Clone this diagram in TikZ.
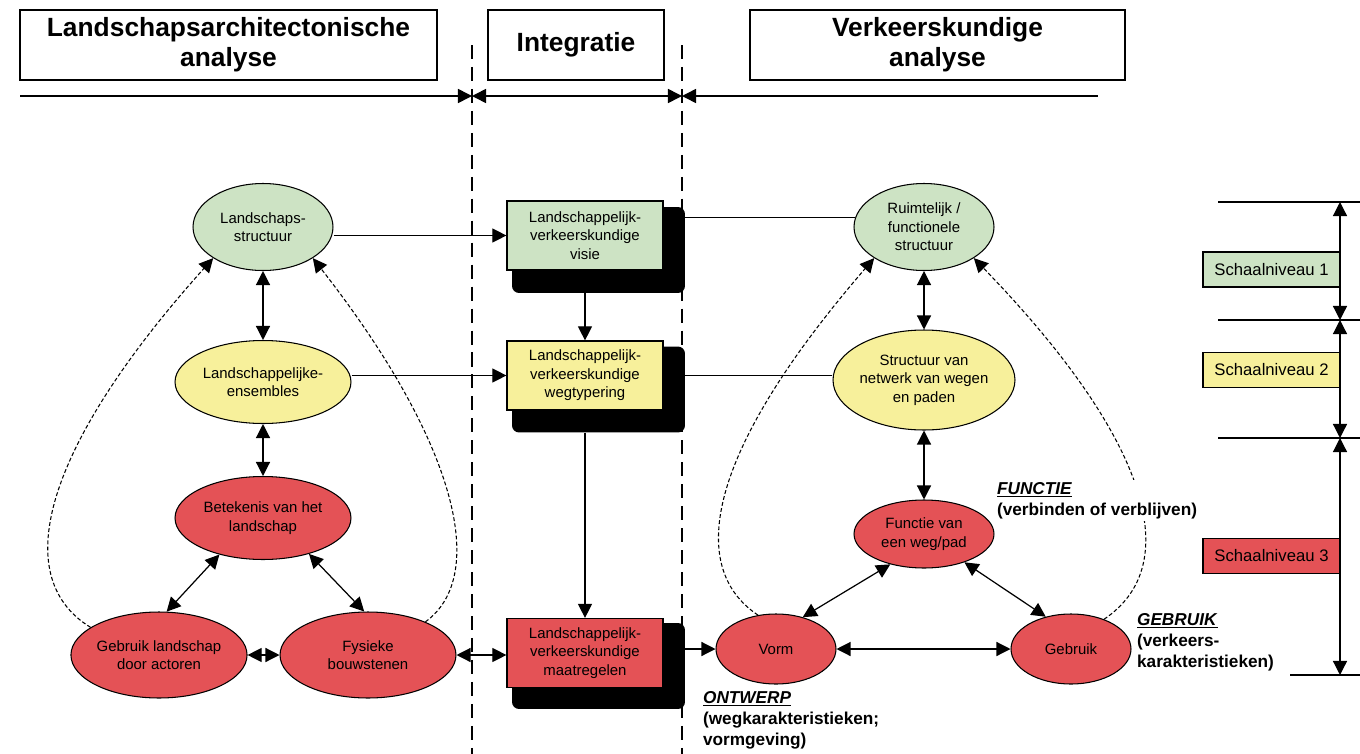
\documentclass[tikz,border=0pt]{standalone}
\usepackage{fontspec}
\setmainfont{Liberation Sans}
\usetikzlibrary{positioning,shapes.geometric,arrows.meta}
\definecolor{lgreen}{RGB}{205,227,196}
\definecolor{lyellow}{RGB}{247,240,155}
\definecolor{lred}{RGB}{228,82,86}
\tikzset{ell node/.style={ellipse, draw, line width=0.6pt, inner sep=0pt, align=center, font=\fontsize{8.5}{10.5}\selectfont},
    mid box/.style={rectangle, draw, line width=0.7pt, inner sep=0pt, minimum width=3.12cm, minimum height=1.38cm, align=center, font=\fontsize{8.5}{10.5}\selectfont},
    shadow box/.style={rectangle, fill=black, rounded corners=4pt, minimum width=3.46cm, minimum height=1.72cm},
    head box/.style={rectangle, draw, line width=0.9pt, minimum height=1.4cm, align=center, font=\fontsize{15}{17}\selectfont\bfseries},
    level box/.style={rectangle, draw, line width=0.7pt, minimum width=2.74cm, minimum height=0.7cm, font=\fontsize{9.5}{11}\selectfont},
    side note/.style={anchor=north west, fill=white, inner sep=1pt, align=left, font=\fontsize{9.8}{12}\selectfont\bfseries},
    conn/.style={line width=0.7pt},
    dbl arrow/.style={draw, line width=0.7pt, <->},
    loop conn/.style={line width=0.6pt, dash pattern=on 2.2pt off 1.3pt},
    border line/.style={line width=1.7pt, dash pattern=on 8pt off 4.5pt},}

\begin{document}
\begin{tikzpicture}[x=0.02cm, y=-0.02cm, >={Triangle[length=8pt,width=8pt]}]
        \useasboundingbox (0,0) rectangle (1360,754);
        % Headers
        \node[head box, minimum width=8.34cm] (hleft) at (228.5,45) {Landschapsarchitectonische\\analyse};
        \node[head box, minimum width=3.52cm] (hmid) at (576,45) {Integratie};
        \node[head box, minimum width=7.5cm] (hright) at (937.5,45) {Verkeerskundige\\analyse};
        \coordinate (l0) at (20,96);
        \coordinate (l1) at (472,96);
        \coordinate (l2) at (682,96);
        \coordinate (l3) at (1098,96);
        \coordinate (b1top) at (472,45);
        \coordinate (b1bot) at (472,754);
        \coordinate (b2top) at (682,45);
        \coordinate (b2bot) at (682,754);
        \draw[border line] (b1top) -- (b1bot);
        \draw[border line] (b2top) -- (b2bot);
        \draw[line width=0.9pt,->] (l0) -- (l1);
        \draw[line width=0.9pt,<->] (l1) -- (l2);
        \draw[line width=0.9pt,<-] (l2) -- (l3);
        % Integration boxes
        \node[shadow box] (visie-sh) at (598.5,250) {};
        \node[mid box, fill=lgreen] (visie) at (585,235.5) {Landschappelijk-\\verkeerskundige\\visie};
        \node[shadow box] (weg-sh) at (598.5,389.5) {};
        \node[mid box, fill=lyellow] (weg) at (585,375.5) {Landschappelijk-\\verkeerskundige\\wegtypering};
        \node[shadow box] (maat-sh) at (598.5,666) {};
        \node[mid box, fill=lred] (maat) at (585,653) {Landschappelijk-\\verkeerskundige\\maatregelen};
        % Landscape nodes
        \node[ell node, fill=lgreen, minimum width=2.8cm, minimum height=1.74cm] (struct) at (263,227) {Landschaps-\\structuur};
        \node[ell node, fill=lyellow, minimum width=3.52cm, minimum height=1.66cm] (ens) at (263,382) {Landschappelijke-\\ensembles};
        \node[ell node, fill=lred, minimum width=3.52cm, minimum height=1.66cm] (betek) at (263,518) {Betekenis van het\\landschap};
        \node[ell node, fill=lred, minimum width=3.52cm, minimum height=1.72cm] (gebr) at (159,655) {Gebruik landschap\\door actoren};
        \node[ell node, fill=lred, minimum width=3.52cm, minimum height=1.72cm] (fys) at (368,655) {Fysieke\\bouwstenen};
        % Traffic nodes
        \node[ell node, fill=lgreen, minimum width=2.8cm, minimum height=1.74cm] (ruimte) at (924,227) {Ruimtelijk /\\functionele\\structuur};
        \node[ell node, fill=lyellow, minimum width=3.5cm, minimum height=2cm] (netw) at (924,380) {Structuur van\\netwerk van wegen\\en paden};
        \node[ell node, fill=lred, minimum width=2.8cm, minimum height=1.36cm] (functie) at (924,534) {Functie van\\een weg/pad};
        \node[ell node, fill=lred, minimum width=2.4cm, minimum height=1.4cm] (vorm) at (776,649) {Vorm};
        \node[ell node, fill=lred, minimum width=2.4cm, minimum height=1.4cm] (gebruik) at (1071,649) {Gebruik};
        % Paths
        \draw[conn,->] (struct.east |- visie.west) -- (visie.west);
        \draw[conn,->] (ens.east |- weg.west) -- (weg.west);
        \draw[conn,<->] (fys.east) -- (fys.east -| maat.west);
        \draw[conn,->] (maat-sh.east |- vorm.west) -- (vorm.west);
        \draw[conn] (visie-sh.east |- ruimte.172) -- (ruimte.172);
        \draw[conn] (weg-sh.east |- weg.east) -- (weg.east -| netw.west);
        \draw[conn,->] (visie-sh.south -| visie.south) -- (weg.north);
        \draw[conn,->] (weg-sh.south -| weg.south) -- (maat.north);
        \path
        (struct) edge[dbl arrow] (ens)
        (ens) edge[dbl arrow] (betek)
        (betek.220) edge[dbl arrow] (gebr.80)
        (betek.322) edge[dbl arrow] (fys.95)
        (gebr) edge[dbl arrow] (fys);
        \path
        (ruimte) edge[dbl arrow] (netw)
        (netw) edge[dbl arrow] (functie)
        (functie.222) edge[dbl arrow] (vorm.50)
        (functie.325) edge[dbl arrow] (gebruik.128)
        (vorm) edge[dbl arrow] (gebruik);
        \draw[loop conn,->] (gebr.158) .. controls (5,575) and (50,440) .. (struct.212);
        \draw[loop conn,->] (fys.30) .. controls (490,575) and (455,440) .. (struct.328);
        \draw[loop conn,->] (vorm.118) .. controls (690,570) and (700,460) .. (ruimte.212);
        \draw[loop conn,->] (gebruik.42) .. controls (1185,565) and (1150,440) .. (ruimte.328);
        % Notes
        \node[side note] (n-functie) at (995,480) {\underline{\textit{FUNCTIE}}\\(verbinden of verblijven)};
        \node[side note] (n-gebruik) at (1135,611) {\underline{\textit{GEBRUIK}}\\(verkeers-\\karakteristieken)};
        \node[side note] (n-ontwerp) at (701,689) {\underline{\textit{ONTWERP}}\\(wegkarakteristieken;\\vormgeving)};
        % Scale levels
        \coordinate (s0l) at (1218,202);
        \coordinate (s0r) at (1360,202);
        \coordinate (s1l) at (1218,320);
        \coordinate (s1r) at (1360,320);
        \coordinate (s2l) at (1218,438);
        \coordinate (s2r) at (1360,438);
        \coordinate (s3l) at (1290,675);
        \coordinate (s3r) at (1360,675);
        \coordinate (v0) at (1340,202);
        \coordinate (v1) at (1340,320);
        \coordinate (v2) at (1340,438);
        \coordinate (v3) at (1340,675);
        \draw[conn] (s0l) -- (s0r);
        \draw[conn] (s1l) -- (s1r);
        \draw[conn] (s2l) -- (s2r);
        \draw[conn] (s3l) -- (s3r);
        \path
        (v0) edge[dbl arrow] (v1)
        (v1) edge[dbl arrow] (v2)
        (v2) edge[dbl arrow] (v3);
        \node[level box, fill=lgreen] (lev1) at (1271.5,269.5) {Schaalniveau 1};
        \node[level box, fill=lyellow] (lev2) at (1271.5,370) {Schaalniveau 2};
        \node[level box, fill=lred] (lev3) at (1271.5,556) {Schaalniveau 3};
    \end{tikzpicture}
\end{document}
